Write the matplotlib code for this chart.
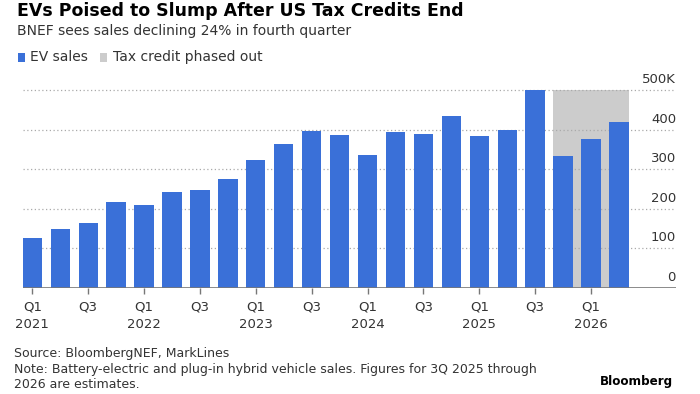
import matplotlib
matplotlib.use("Agg")
import matplotlib.pyplot as plt
from matplotlib.patches import Rectangle
from matplotlib.transforms import blended_transform_factory

# ----- Data -----
quarters = ["Q1", "Q2", "Q3", "Q4"] * 5 + ["Q1", "Q2"]
years = [2021] * 4 + [2022] * 4 + [2023] * 4 + [2024] * 4 + [2025] * 4 + [2026] * 2
ev_sales = [125, 148, 163, 217, 209, 243, 248, 275,
            323, 364, 397, 385, 336, 394, 388, 435,
            383, 400, 500, 333, 376, 420]  # thousands
phase_out_start = 19  # Q4 2025
phase_out_end = 21    # Q2 2026
y_ticks = [0, 100, 200, 300, 400, 500]
y_tick_labels = ["0", "100", "200", "300", "400", "500K"]

# ----- Style -----
BLUE = "#3a70d8"
GRAY = "#cccccc"
TEXT = "#333333"
W, H = 700, 394
bar_w = 0.69

fig = plt.figure(figsize=(W / 100, H / 100), dpi=100)
fig.patch.set_facecolor("white")


def px(x, y):
    return x / W, 1 - y / H


# axes geometry in pixels
left_px, right_px = 22.7, 676
base_px, top_px = 287.7, 90
ymax = 510
ax_h = (base_px - top_px) / 500 * ymax
ax = fig.add_axes([left_px / W, 1 - base_px / H, (right_px - left_px) / W, ax_h / H])

x = list(range(len(ev_sales)))
ax.add_patch(Rectangle((phase_out_start - bar_w / 2, 0),
                       phase_out_end - phase_out_start + bar_w, 500,
                       facecolor=GRAY, edgecolor="none", zorder=0))
ax.bar(x, ev_sales, width=bar_w, color=BLUE, zorder=2)

ax.set_xlim(-bar_w / 2, 21 + (right_px - 618.8) / 28)
ax.set_ylim(0, ymax)

for yv in y_ticks[1:]:
    ax.axhline(yv, color="#aaaaaa", lw=0.9, ls=(0, (1, 2)), zorder=1)
ax.axhline(0, color="#777777", lw=1.2, zorder=3)

trans = blended_transform_factory(ax.transAxes, ax.transData)
for yv, lab in zip(y_ticks, y_tick_labels):
    ax.text(1.0, yv + 10, lab, transform=trans, ha="right", va="bottom",
            fontsize=9.5, color=TEXT)

for s in ax.spines.values():
    s.set_visible(False)
ax.set_yticks([])

tick_pos = [i for i in x if quarters[i] in ("Q1", "Q3")]
tick_labels = [f"{quarters[i]}\n{years[i]}" if quarters[i] == "Q1" else quarters[i]
               for i in tick_pos]
ax.set_xticks(tick_pos)
ax.set_xticklabels(tick_labels, fontsize=9.5, color=TEXT, linespacing=1.5, va="top")
ax.tick_params(axis="x", length=4, width=1, color="#777777", pad=5)

# ----- Header -----
fig.text(*px(17, 11), "EVs Poised to Slump After US Tax Credits End",
         fontsize=12.5, fontweight="bold", color="black", va="center")
fig.text(*px(17, 31), "BNEF sees sales declining 24% in fourth quarter",
         fontsize=10, color=TEXT, va="center")

fig.patches.append(Rectangle(px(18, 62), 7 / W, 9 / H, transform=fig.transFigure,
                             facecolor=BLUE, edgecolor="none"))
fig.text(*px(30, 57), "EV sales", fontsize=10, color=TEXT, va="center")
fig.patches.append(Rectangle(px(100, 62), 7 / W, 9 / H, transform=fig.transFigure,
                             facecolor=GRAY, edgecolor="none"))
fig.text(*px(113, 57), "Tax credit phased out", fontsize=10, color=TEXT, va="center")

# ----- Footer -----
foot = dict(fontsize=9, color=TEXT, va="center")
fig.text(*px(14, 354), "Source: BloombergNEF, MarkLines", **foot)
fig.text(*px(14, 369), "Note: Battery-electric and plug-in hybrid vehicle sales. "
         "Figures for 3Q 2025 through", **foot)
fig.text(*px(14, 384), "2026 are estimates.", **foot)
fig.text(*px(673, 382), "Bloomberg", fontsize=9.5, fontweight="bold",
         fontstretch="condensed", color="black", ha="right", va="center")

fig.savefig("out.png", dpi=100)
